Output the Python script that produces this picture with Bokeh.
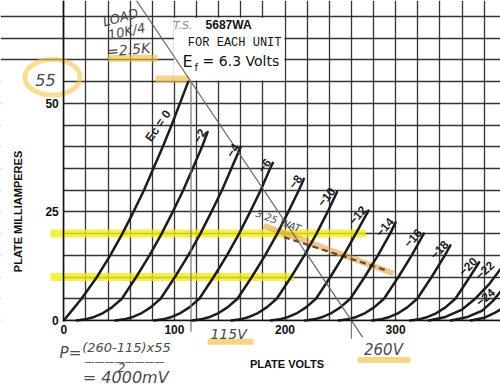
import numpy as np
from bokeh.plotting import figure
from bokeh.models import (Label, BoxAnnotation, SingleIntervalTicker, FixedTicker,
                          ColumnDataSource)
from bokeh.core.properties import value
from bokeh.embed import file_html
from bokeh.resources import INLINE

# ---------------- data ----------------
bias_labels = ["0", "−2", "−4", "−6", "−8", "−10", "−12", "−14", "−16", "−18", "−20", "−22", "−24"]

v_ec0 = [0, 8, 16, 30, 42, 53, 63, 72.5, 81, 89.5, 97.5, 105, 112.5]
i_ec0 = [0, 2.5, 5, 10, 15, 20, 25, 30, 35, 40, 45, 50, 55]
v_ec2 = [11.5, 19.5, 27.5, 35.5, 43.5, 52.5, 65.5, 77.5, 88.5, 98.5, 108, 116.5, 125, 130]
i_ec2 = [0, 0.25, 0.8, 1.7, 3.0, 5, 10, 15, 20, 25, 30, 35, 40, 43.4]
v_ec4 = [46.5, 54.5, 62.5, 70.5, 78.5, 87.5, 100.5, 112.5, 123.5, 133.5, 143, 151.5, 160]
i_ec4 = [0, 0.25, 0.8, 1.7, 3, 5, 10, 15, 20, 25, 30, 35, 40]
v_ec6 = [81.5, 89.5, 97.5, 105.5, 113.5, 122.5, 135.5, 147.5, 158.5, 168.5, 178, 186.5, 189]
i_ec6 = [0, 0.25, 0.8, 1.7, 3, 5, 10, 15, 20, 25, 30, 35, 36.3]
v_ec8 = [116, 124, 132, 140, 148, 157, 170, 182, 193, 203, 212.5, 217]
i_ec8 = [0, 0.25, 0.8, 1.7, 3, 5, 10, 15, 20, 25, 30, 32.6]
v_ec10 = [151.5, 159.5, 167.5, 175.5, 183.5, 192.5, 205.5, 217.5, 228.5, 238.5, 247]
i_ec10 = [0, 0.25, 0.8, 1.7, 3, 5, 10, 15, 20, 25, 29.6]
v_ec12 = [187, 195, 203, 211, 219, 228, 241, 253, 264, 275.5]
i_ec12 = [0, 0.25, 0.8, 1.7, 3, 5, 10, 15, 20, 25.3]
v_ec14 = [218, 226, 234, 242, 250, 259, 272, 284, 295, 300]
i_ec14 = [0, 0.25, 0.8, 1.7, 3, 5, 10, 15, 20, 22.6]
v_ec16 = [248.5, 256.5, 264.5, 272.5, 280.5, 289.5, 302.5, 314.5, 325.5]
i_ec16 = [0, 0.25, 0.8, 1.7, 3, 5, 10, 15, 20]
v_ec18 = [278.5, 286.5, 294.5, 302.5, 310.5, 319.5, 332.5, 344.5, 349.5]
i_ec18 = [0, 0.25, 0.8, 1.7, 3, 5, 10, 15, 17.3]
v_ec20 = [313, 321, 329, 337, 345, 354, 367, 375.5]
i_ec20 = [0, 0.25, 0.8, 1.7, 3, 5, 10, 13.4]
v_ec22 = [330, 345, 360, 372, 385, 395, 400]
i_ec22 = [0, 0.8, 2.5, 5, 8.5, 11.9, 13.5]
v_ec24 = [350, 365, 378, 388, 396, 402]
i_ec24 = [0, 0.8, 2.2, 4.5, 7, 8.8]
v_ec26 = [368, 380, 390, 398]
i_ec26 = [0, 0.6, 1.8, 3]

x_ticks = [0, 100, 200, 300, 400]
y_ticks = [0, 25, 50]

# operating point / load line (hand annotations)
load_v = [115, 260]
load_i = [55, 0]
band_levels = [10, 20]          # yellow highlighter lines (mA)
band_ends = [208, 273]          # where they stop (V)
diss_v = [181, 298]             # orange / dashed dissipation line
diss_i = [21.8, 10.8]
diss_dash_v = [199, 292]
diss_dash_i = [19.2, 11.5]

# ---------------- figure (frame fills the page, axes at fixed locations) ----------------
X0, X1, Y0, Y1 = -57.2, 394.8, -16.6, 73.7
p = figure(width=500, height=392, x_range=(X0, X1), y_range=(Y0, Y1),
           output_backend="svg", toolbar_location=None, min_border=0)
p.outline_line_color = None
p.background_fill_color = "white"
p.border_fill_color = "white"

p.xaxis.ticker = FixedTicker(ticks=x_ticks)
p.yaxis.ticker = FixedTicker(ticks=y_ticks)
p.xaxis.fixed_location = 0
p.yaxis.fixed_location = 0
p.xaxis.bounds = (0, X1)
p.yaxis.bounds = (0, Y1)
p.xgrid.ticker = SingleIntervalTicker(interval=20)
p.ygrid.ticker = SingleIntervalTicker(interval=5)
for g in (p.xgrid, p.ygrid):
    g.grid_line_color = "#1e1e1e"
    g.grid_line_width = 1.3
    g.grid_line_alpha = 0.9
for ax in (p.xaxis, p.yaxis):
    ax.axis_line_color = "#111111"
    ax.axis_line_width = 1.6
    ax.major_tick_line_color = None
    ax.minor_tick_line_color = None
    ax.major_tick_out = 0
    ax.major_tick_in = 0
    ax.minor_tick_out = 0
    ax.major_label_text_font = "Liberation Sans"
    ax.major_label_text_font_style = "bold"
    ax.major_label_text_font_size = "12px"
    ax.major_label_text_color = "#111111"
p.yaxis.major_label_standoff = 5
p.xaxis.major_label_standoff = 5

# white paper outside the graph area and the white title box (hide the grid)
for kw in (dict(top=0), dict(right=0, top=59.6),
           dict(left=99.5, right=199.5, bottom=55.3, top=69.7)):
    p.add_layout(BoxAnnotation(fill_color="white", fill_alpha=1, line_color=None,
                               level="underlay", **kw))

# yellow highlighter bands
p.segment(x0=[-12] * len(band_levels), y0=band_levels, x1=band_ends, y1=band_levels,
          line_width=8, line_color="#f2ec1c", line_alpha=0.8)

# orange highlights
hl = dict(line_color="#f1bf45", line_alpha=0.65)
p.line([40, 85], [60.4, 60.4], line_width=7, **hl)
p.line([83, 113], [55.6, 55.6], line_width=7, **hl)
p.line([130, 171.5], [-4.9, -4.9], line_width=6, **hl)
p.line([265.5, 313.4], [-9.1, -9.1], line_width=6, **hl)
p.ellipse(x=[-10.2], y=[56], width=[50], height=[8.2], fill_color=None,
          line_color="#f3c64a", line_width=5, line_alpha=0.6)
p.line(diss_v, diss_i, line_width=6, line_color="#eaa03c", line_alpha=0.6)
p.line(diss_dash_v, diss_dash_i, line_width=2.2, line_color="#5a4a3c", line_dash="6 4")

# curves
curves = [(v_ec0, i_ec0), (v_ec2, i_ec2), (v_ec4, i_ec4), (v_ec6, i_ec6), (v_ec8, i_ec8),
          (v_ec10, i_ec10), (v_ec12, i_ec12), (v_ec14, i_ec14), (v_ec16, i_ec16),
          (v_ec18, i_ec18), (v_ec20, i_ec20), (v_ec22, i_ec22), (v_ec24, i_ec24),
          (v_ec26, i_ec26)]
for vv, ii in curves:
    p.line(vv, ii, line_width=2.5, line_color="#1c1c1c", line_cap="round", line_join="round")

# load line (through the two marked points) and the 115 V / 260 V drop lines
g = (load_i[1] - load_i[0]) / (load_v[1] - load_v[0])
ll_i = [Y1, -3.9]
ll_v = [load_v[0] + (yy - load_i[0]) / g for yy in ll_i]
p.line(ll_v, ll_i, line_color="#666666", line_width=1.2)
p.segment(x0=[load_v[0], load_v[1]], y0=[load_i[0], 0], x1=[load_v[0], load_v[1]],
          y1=[-2.6, -4.2], line_color="#777777", line_width=1.2)

# curve labels
label_angles = [55, 60, 58, 52, 52, 50, 48, 48, 47, 46, 45, 42, 40]
tips_v = [c[0][-1] for c in curves[1:11]]
tips_i = [c[1][-1] for c in curves[1:11]]
src = ColumnDataSource(dict(x=tips_v, y=tips_i, text=bias_labels[1:11], angle=label_angles[1:11]))
lf = dict(text_font=value("Liberation Sans"), text_font_style="bold", text_font_size="12px",
          text_color="#1c1c1c", angle_units="deg")
p.text(x="x", y="y", text="text", angle="angle", source=src,
       text_align="right", text_baseline="bottom", x_offset=-1, **lf)
p.text(x=[380.5, 381.0], y=[11.6, 5.4], text=bias_labels[11:], angle=label_angles[11:],
       text_align="center", text_baseline="middle", **lf)
p.add_layout(Label(x=99.5, y=47.2, text="Ec = " + bias_labels[0], angle=label_angles[0],
                   angle_units="deg", text_font="Liberation Sans", text_font_style="bold",
                   text_font_size="12px", text_align="right", text_baseline="bottom",
                   text_color="#1c1c1c"))

def lab(x, y, t, size, font="Liberation Sans", style="normal", color="#111111",
        align="center", baseline="middle", angle=0):
    p.add_layout(Label(x=x, y=y, text=t, text_font=font, text_font_style=style,
                       text_font_size=size, text_color=color, text_align=align,
                       text_baseline=baseline, angle=angle, angle_units="deg"))

# title box text
lab(149, 68.0, "5687WA", "12px", style="bold")
lab(154.5, 63.8, "FOR EACH UNIT", "12px", font="Liberation Mono")
lab(112, 59.7, "E", "16px", font="DejaVu Sans")
lab(119.8, 58.3, "f", "10px", font="DejaVu Sans")
lab(125.5, 59.7, "= 6.3 Volts", "14px", font="DejaVu Sans", align="left")

# axis titles
lab(-41, 25.1, "PLATE MILLIAMPERES", "11px", style="bold", angle=90)
lab(201.8, -10.0, "PLATE VOLTS", "11px", style="bold")

# handwritten notes
hw = "DejaVu Sans"
pen = "#4a4a4a"
lab(107.5, 68.0, "T.S.", "11px", font=hw, style="italic", color="#8a8a8a")
lab(51.3, 69.8, "LOAD", "13px", font=hw, style="italic", color=pen, angle=15)
lab(56.8, 66.6, "10K/4", "13px", font=hw, style="italic", color=pen, angle=12)
lab(58.6, 62.4, "=2.5K", "14px", font=hw, style="italic", color=pen, angle=5)
lab(194, 22.9, "3.25 WAT", "10px", font=hw, style="italic", color=pen, angle=-20)
lab(-16.5, 55.3, "55", "16px", font=hw, style="italic", color=pen)
lab(149, -3.1, "115V", "14px", font=hw, style="italic", color=pen)
lab(289, -6.7, "260V", "15px", font=hw, style="italic", color=pen)
lab(6, -7.6, "P=", "15px", font=hw, style="italic", color=pen)
lab(56.7, -6.2, "(260-115)x55", "13px", font=hw, style="italic", color=pen)
lab(55, -9.4, "————————", "10px", font=hw, color=pen)
lab(52.2, -10.8, "2", "12px", font=hw, style="italic", color=pen)
lab(56, -13.1, "= 4000mV", "16px", font=hw, style="italic", color=pen)

open("out.html", "w").write(file_html(p, INLINE))
